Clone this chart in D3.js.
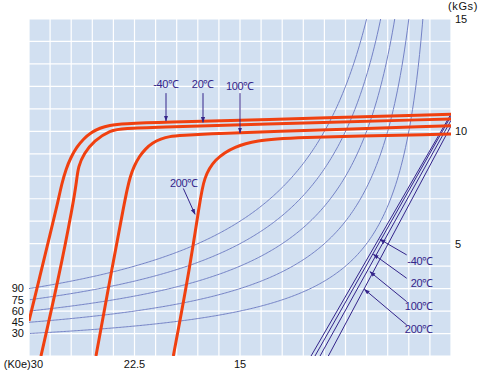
<!DOCTYPE html>
<html><head><meta charset="utf-8">
<script src="https://cdn.jsdelivr.net/npm/d3@7"></script>
<style>
body{margin:0;background:#fff}
svg{display:block}
text{font-family:"Liberation Sans",Arial,sans-serif;font-size:11px}
</style>
</head><body>
<svg id="c" width="484" height="375"></svg>
<script>
// ---- data (H in kOe, B in kGs) ----
const curveM40 = [[30,1.56],[29.22,3.56],[28.51,5.39],[28.01,6.68],[27.66,7.7],[27.37,8.32],[27.02,8.85],[26.61,9.3],[26.13,9.66],[25.58,9.95],[24.96,10.15],[24.28,10.27],[23.39,10.34],[20.26,10.42],[14.29,10.5],[0,10.76]];
const curve20  = [[29.15,0],[27.92,3.38],[26.85,6.8],[26.61,7.83],[26.5,8.43],[26.09,9.02],[25.38,9.57],[24.24,10.06],[23.18,10.13],[21.04,10.18],[14.29,10.31],[0,10.55]];
const curve100 = [[25.24,0],[24.12,3.83],[23.21,6.85],[23.03,7.39],[22.82,7.96],[22.53,8.45],[22.17,8.87],[21.74,9.21],[21.23,9.48],[20.64,9.66],[19.99,9.78],[19.27,9.81],[16.42,9.91],[14.05,9.96],[0,10.25]];
const curve200 = [[19.74,0],[18.55,3.98],[17.84,6.94],[17.56,7.92],[16.85,8.75],[15.36,9.35],[13.72,9.59],[11.94,9.72],[0,9.88]];
const demagCurves = [curveM40, curve20, curve100, curve200];

// normal (B-H) lines: B at H=0 and coercivity Hcb
const normalBr = [10.77, 10.68, 10.49, 10.24];
const normalHc = [9.95, 9.67, 9.31, 8.72];

// energy product iso-curves (B*H = const)
const bhProducts = [30, 45, 60, 75, 90];

// tick labels
const yTickLabels = [5, 10, 15];
const xTickLabels = [22.5, 15];
const xFirstLabel = "(K0e)30";
const yUnitLabel = "(kGs)";

// temperature annotations
const tempLabels = ["-40℃", "20℃", "100℃", "200℃"];
const topNotes = [ // label H,B ; arrow from B to B
  {t:tempLabels[0], h:20.26, b:12.12, b0:11.7, b1:10.46},
  {t:tempLabels[1], h:17.63, b:12.12, b0:11.7, b1:10.40},
  {t:tempLabels[2], h:15.0,  b:12.03, b0:11.7, b1:9.93}
];
const note200 = {t:tempLabels[3], h:18.98, b:7.70, h0:19.03, b0:7.46, h1:18.2, b1:6.31};
const rightNotes = [
  {t:tempLabels[0], b:4.20, h0:3.15, b0:4.50, h1:5.05, b1:5.19},
  {t:tempLabels[1], b:3.24, h0:3.15, b0:3.46, h1:5.52, b1:4.53},
  {t:tempLabels[2], b:2.24, h0:3.15, b0:2.42, h1:5.76, b1:3.75},
  {t:tempLabels[3], b:1.19, h0:3.15, b0:1.38, h1:6.16, b1:2.97}
];

// ---- drawing ----
const svg = d3.select("#c");
const x = d3.scaleLinear().domain([30, 0]).range([29, 451]);
const y = d3.scaleLinear().domain([0, 15]).range([356, 19]);

const PURPLE = "#34248a", RED = "#f04010", THIN = "#7482c6", BG = "#d2e0f1";

svg.append("defs").html(
  `<clipPath id="clip"><rect x="${x(30)}" y="${y(15)}" width="${x(0)-x(30)}" height="${y(0)-y(15)}"/></clipPath>
   <marker id="ah" viewBox="0 0 10 10" refX="9" refY="5" markerWidth="6" markerHeight="6" orient="auto-start-reverse" markerUnits="userSpaceOnUse">
     <path d="M0,1.5 L10,5 L0,8.5 z" fill="${PURPLE}"/></marker>`);

svg.append("rect").attr("x", x(30)).attr("y", y(15))
  .attr("width", x(0)-x(30)).attr("height", y(0)-y(15)).attr("fill", BG);

// grid
const gx = d3.range(0, 30.001, 1.5), gy = d3.range(0, 15.001, 1);
svg.append("g").selectAll("line").data(gx).join("line")
  .attr("x1", d=>x(d)).attr("x2", d=>x(d)).attr("y1", y(0)).attr("y2", y(15))
  .attr("stroke", "#fff").attr("stroke-width", 1.2);
svg.append("g").selectAll("line").data(gy).join("line")
  .attr("y1", d=>y(d)).attr("y2", d=>y(d)).attr("x1", x(30)).attr("x2", x(0))
  .attr("stroke", "#fff").attr("stroke-width", 1.2);

const plot = svg.append("g").attr("clip-path", "url(#clip)");

// iso energy-product curves
const hyp = d3.line().x(d=>x(d[0])).y(d=>y(d[1]));
bhProducts.forEach(c => {
  const pts = d3.range(c/15.5, 30.01, 0.1).map(h => [h, c/h]);
  plot.append("path").attr("d", hyp(pts)).attr("fill", "none")
    .attr("stroke", THIN).attr("stroke-width", 1);
});

// normal lines
normalBr.forEach((br, i) => {
  plot.append("line").attr("x1", x(0)).attr("y1", y(br))
    .attr("x2", x(normalHc[i])).attr("y2", y(0))
    .attr("stroke", PURPLE).attr("stroke-width", 1);
});

// demag curves
const dl = d3.line().x(d=>x(d[0])).y(d=>y(d[1])).curve(d3.curveBasis);
demagCurves.forEach(cv => {
  plot.append("path").attr("d", dl(cv)).attr("fill", "none")
    .attr("stroke", RED).attr("stroke-width", 3).attr("stroke-linejoin", "round");
});

// annotations
const ann = svg.append("g").attr("fill", PURPLE).attr("letter-spacing", "-0.3px");
topNotes.forEach(n => {
  ann.append("text").attr("x", x(n.h)).attr("y", y(n.b)).attr("dy", "0.35em")
    .attr("text-anchor", "middle").text(n.t);
  ann.append("line").attr("x1", x(n.h)).attr("x2", x(n.h)).attr("y1", y(n.b0)).attr("y2", y(n.b1))
    .attr("stroke", PURPLE).attr("stroke-width", 1).attr("marker-end", "url(#ah)");
});
ann.append("text").attr("x", x(note200.h)).attr("y", y(note200.b)).attr("dy", "0.35em")
  .attr("text-anchor", "middle").text(note200.t);
ann.append("line").attr("x1", x(note200.h0)).attr("y1", y(note200.b0))
  .attr("x2", x(note200.h1)).attr("y2", y(note200.b1))
  .attr("stroke", PURPLE).attr("stroke-width", 1).attr("marker-end", "url(#ah)");
rightNotes.forEach(n => {
  ann.append("text").attr("x", x(1.28)).attr("y", y(n.b)).attr("dy", "0.35em")
    .attr("text-anchor", "end").text(n.t);
  ann.append("line").attr("x1", x(n.h0)).attr("y1", y(n.b0)).attr("x2", x(n.h1)).attr("y2", y(n.b1))
    .attr("stroke", PURPLE).attr("stroke-width", 1).attr("marker-end", "url(#ah)");
});

// hyperbola labels
svg.append("g").selectAll("text").data(bhProducts).join("text")
  .attr("x", x(30) - 5).attr("y", d => y(d/30)).attr("dy", "0.35em")
  .attr("text-anchor", "end").attr("fill", "#111").text(d => d);

// axes labels
svg.append("g").selectAll("text").data(yTickLabels).join("text")
  .attr("x", x(0) + 4).attr("y", d => y(d)).attr("dy", "0.35em").attr("fill", "#111").text(d => d);
svg.append("text").attr("x", x(0) + 12).attr("y", y(15) - 9).attr("text-anchor", "middle")
  .attr("letter-spacing", "0.6px").attr("fill", "#111").text(yUnitLabel);
svg.append("g").selectAll("text").data(xTickLabels).join("text")
  .attr("x", d => x(d)).attr("y", y(0) + 12).attr("text-anchor", "middle").attr("fill", "#111").text(d => d);
svg.append("text").attr("x", x(30) + 14).attr("y", y(0) + 12).attr("text-anchor", "end")
  .attr("fill", "#111").text(xFirstLabel);
</script>
</body></html>
